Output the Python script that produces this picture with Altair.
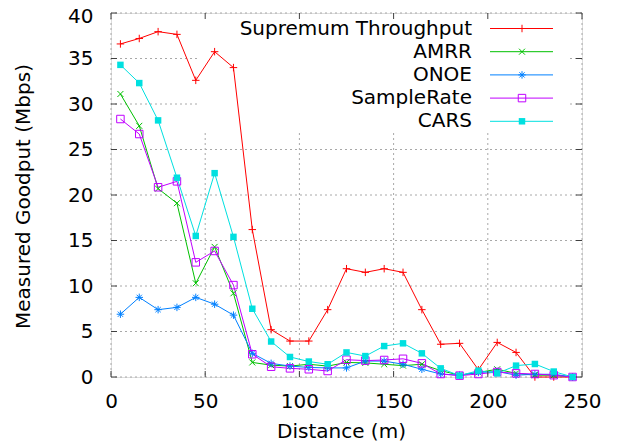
import altair as alt
import pandas as pd

# ---------------- data ----------------
distance = [5, 15, 25, 35, 45, 55, 65, 75, 85, 95, 105, 115, 125, 135, 145,
            155, 165, 175, 185, 195, 205, 215, 225, 235, 245]

series_names = ["Supremum Throughput", "AMRR", "ONOE", "SampleRate", "CARS"]
series_colors = ["#ff0000", "#00c000", "#0080ff", "#c000ff", "#00e0e0"]

supremum = [36.6, 37.2, 37.95, 37.65, 32.6, 35.75, 34.0, 16.2, 5.2, 3.95, 3.95,
            7.4, 11.9, 11.5, 11.9, 11.5, 7.4, 3.6, 3.7, 0.8, 3.8, 2.7, 0.0, 0.0, 0.0]
amrr = [31.1, 27.6, 20.7, 19.1, 10.3, 14.3, 9.2, 1.6, 1.3, 1.2, 1.4,
        1.2, 1.6, 1.55, 1.4, 1.25, 1.4, 0.7, 0.2, 0.5, 0.85, 0.4, 0.2, 0.2, 0.0]
onoe = [6.9, 8.75, 7.4, 7.65, 8.75, 8.0, 6.8, 2.6, 1.5, 1.2, 1.05,
        1.0, 1.0, 1.75, 1.75, 1.4, 0.85, 0.33, 0.2, 0.5, 0.6, 0.2, 0.3, 0.3, 0.0]
samplerate = [28.35, 26.7, 20.85, 21.5, 12.6, 13.85, 10.1, 2.5, 1.13, 0.95, 0.85,
              0.66, 1.9, 1.8, 1.87, 2.0, 1.5, 0.33, 0.15, 0.33, 0.55, 0.4, 0.33, 0.2, 0.0]
cars = [34.3, 32.3, 28.2, 21.9, 15.5, 22.4, 15.4, 7.5, 3.9, 2.2, 1.7,
        1.4, 2.7, 2.3, 3.4, 3.7, 2.6, 0.95, 0.15, 0.7, 0.4, 1.25, 1.43, 0.6, 0.0]

x_ticks = [0, 50, 100, 150, 200, 250]
y_ticks = [0, 5, 10, 15, 20, 25, 30, 35, 40]

# marker shapes (gnuplot style: +, x, *, open square, filled square)
shape_plus = "M-1,0L1,0M0,-1L0,1"
shape_x = "M-0.8,-0.8L0.8,0.8M-0.8,0.8L0.8,-0.8"
shape_star = "M-1,0L1,0M0,-1L0,1M-0.7,-0.7L0.7,0.7M-0.7,0.7L0.7,-0.7"
series_shapes = [shape_plus, shape_x, shape_star, "square", "square"]

# ---------------- tables ----------------
values = [supremum, amrr, onoe, samplerate, cars]
rows = []
for name, vals in zip(series_names, values):
    for d, v in zip(distance, vals):
        rows.append({"series": name, "distance": d, "goodput": v})
df = pd.DataFrame(rows)

legend_df = pd.DataFrame({"series": series_names, "idx": list(range(len(series_names)))})
xt_df = pd.DataFrame({"t": x_ticks})
yt_df = pd.DataFrame({"t": y_ticks})

W, H = 471, 364
FONT = "DejaVu Sans"

xscale = alt.Scale(domain=[0, 250], nice=False, zero=False)
yscale = alt.Scale(domain=[0, 40], nice=False, zero=False)
color_scale = alt.Scale(domain=series_names, range=series_colors)
shape_scale = alt.Scale(domain=series_names, range=series_shapes)

grid_style = dict(color="#a8a8a8", strokeWidth=1, strokeDash=[2, 3])

# grid lines
vgrid = alt.Chart(xt_df).mark_rule(**grid_style).encode(
    x=alt.X("t:Q", scale=xscale,
            axis=alt.Axis(values=x_ticks, title="Distance (m)", grid=False, domain=False,
                          ticks=False, labelPadding=14, labelFontSize=20, labelFont=FONT,
                          labelFlush=False, labelOverlap=False,
                          titleFont=FONT, titleFontSize=20, titleFontWeight="normal",
                          titleX=230, titleY=54, titleBaseline="middle",
                          labelColor="#000000", titleColor="#000000", zindex=1)),
)
hgrid = alt.Chart(yt_df).mark_rule(**grid_style).encode(
    y=alt.Y("t:Q", scale=yscale,
            axis=alt.Axis(values=y_ticks, title="Measured Goodput (Mbps)", grid=False,
                          domain=False, ticks=False, labelPadding=18, labelFontSize=20,
                          labelFont=FONT, labelFlush=False, labelOverlap=False,
                          labelOffset=alt.condition("datum.value == 40", alt.value(3), alt.value(0)),
                          titleFont=FONT, titleFontSize=20,
                          titleFontWeight="normal", titleX=-88, titleY=183,
                          titleAngle=270, titleBaseline="middle", titleAlign="center",
                          labelColor="#000000", titleColor="#000000", zindex=1)),
)

# opaque legend box (hides grid behind the key)
legend_box = alt.Chart(legend_df).mark_rect(color="white").encode(
    x=alt.value(89), x2=alt.value(456), y=alt.value(1), y2=alt.value(118)
)

# data lines
lines = alt.Chart(df).mark_line(strokeWidth=1).encode(
    x=alt.X("distance:Q", scale=xscale),
    y=alt.Y("goodput:Q", scale=yscale),
    color=alt.Color("series:N", scale=color_scale, legend=None),
    detail="series:N",
)

open_points = alt.Chart(df).transform_filter(
    alt.datum.series != "CARS"
).mark_point(filled=False, strokeWidth=1, opacity=1).encode(
    x=alt.X("distance:Q", scale=xscale),
    y=alt.Y("goodput:Q", scale=yscale),
    color=alt.Color("series:N", scale=color_scale, legend=None),
    shape=alt.Shape("series:N", scale=shape_scale, legend=None),
    size=alt.value(56),
)

filled_points = alt.Chart(df).transform_filter(
    alt.datum.series == "CARS"
).mark_point(filled=True, shape="square", opacity=1).encode(
    x=alt.X("distance:Q", scale=xscale),
    y=alt.Y("goodput:Q", scale=yscale),
    color=alt.Color("series:N", scale=color_scale, legend=None),
    size=alt.value(42),
)

# inward ticks on all four sides
tick_style = dict(color="#404040", strokeWidth=1)
tick_bottom = alt.Chart(xt_df).mark_rule(**tick_style).encode(
    x=alt.X("t:Q", scale=xscale), y=alt.value(H), y2=alt.value(H - 6))
tick_top = alt.Chart(xt_df).mark_rule(**tick_style).encode(
    x=alt.X("t:Q", scale=xscale), y=alt.value(0), y2=alt.value(6))
tick_left = alt.Chart(yt_df).mark_rule(**tick_style).encode(
    y=alt.Y("t:Q", scale=yscale), x=alt.value(0), x2=alt.value(6))
tick_right = alt.Chart(yt_df).mark_rule(**tick_style).encode(
    y=alt.Y("t:Q", scale=yscale), x=alt.value(W), x2=alt.value(W - 6))

# custom gnuplot-style key
leg_base = alt.Chart(legend_df).transform_calculate(py="15.5 + datum.idx * 23.2")
leg_text = leg_base.mark_text(align="right", baseline="middle", font=FONT,
                              fontSize=20, color="#000000").encode(
    x=alt.value(361), y=alt.Y("py:Q", scale=None), text="series:N")
leg_line = leg_base.mark_rule(strokeWidth=1).encode(
    x=alt.value(379), x2=alt.value(442), y=alt.Y("py:Q", scale=None),
    color=alt.Color("series:N", scale=color_scale, legend=None))
leg_open = leg_base.transform_filter(alt.datum.series != "CARS").mark_point(
    filled=False, strokeWidth=1, opacity=1).encode(
    x=alt.value(411), y=alt.Y("py:Q", scale=None),
    color=alt.Color("series:N", scale=color_scale, legend=None),
    shape=alt.Shape("series:N", scale=shape_scale, legend=None),
    size=alt.value(56))
leg_filled = leg_base.transform_filter(alt.datum.series == "CARS").mark_point(
    filled=True, shape="square", opacity=1).encode(
    x=alt.value(411), y=alt.Y("py:Q", scale=None),
    color=alt.Color("series:N", scale=color_scale, legend=None),
    size=alt.value(42))

chart = alt.layer(
    vgrid, hgrid, legend_box, lines, open_points, filled_points,
    tick_bottom, tick_top, tick_left, tick_right,
    leg_text, leg_line, leg_open, leg_filled,
).properties(
    width=W, height=H,
    autosize=alt.AutoSizeParams(type="none"),
    padding={"left": 103, "top": 5, "right": 28, "bottom": 68},
).configure_view(
    stroke="#404040", strokeWidth=1.5
).configure(background="white")

chart.save("out.html", embed_options={"renderer": "svg", "actions": False})
